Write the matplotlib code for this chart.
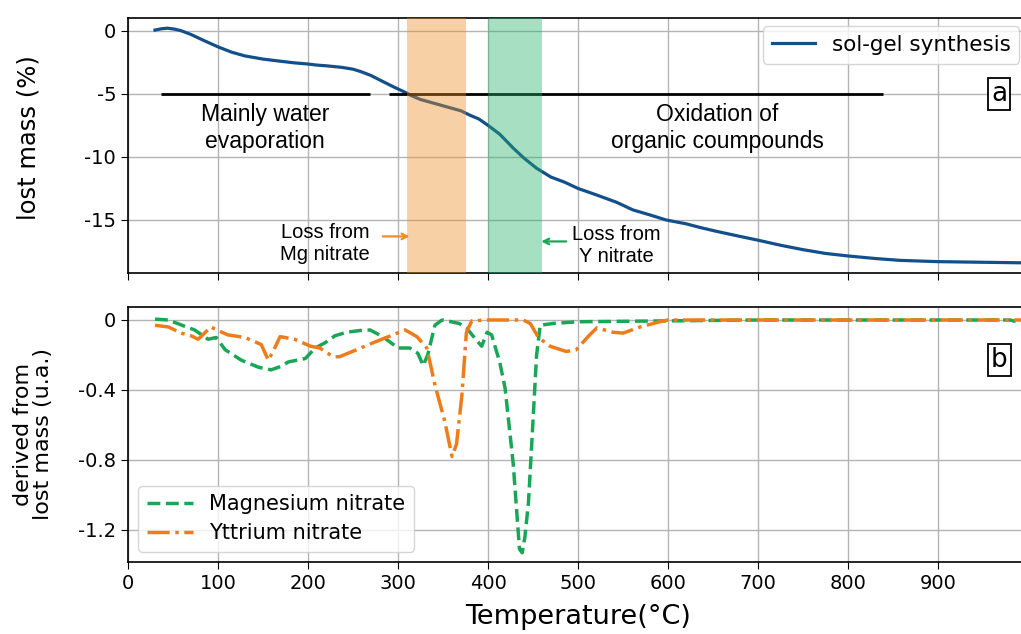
import matplotlib
matplotlib.use("Agg")
import matplotlib.pyplot as plt

# ---- data ----
solgel_T = [30, 37, 44, 52, 59, 70, 85, 100, 115, 130, 150, 167, 185, 200, 209, 220, 237, 250,
            259, 270, 281, 295, 307, 315, 325, 340, 355, 370, 380, 390, 400, 413, 428, 440, 454,
            470, 485, 500, 520, 543, 561, 580, 598, 620, 636, 654, 680, 700, 725, 750, 775, 800,
            830, 858, 900, 950, 1000]
solgel_mass = [0.05, 0.15, 0.2, 0.12, 0.0, -0.3, -0.8, -1.28, -1.7, -2.0, -2.25, -2.4, -2.55,
               -2.64, -2.72, -2.78, -2.9, -3.05, -3.25, -3.55, -3.95, -4.45, -4.85, -5.15, -5.45,
               -5.75, -6.05, -6.35, -6.7, -7.0, -7.5, -8.2, -9.3, -10.1, -10.9, -11.6, -12.0,
               -12.5, -13.0, -13.6, -14.2, -14.6, -15.0, -15.3, -15.6, -15.9, -16.3, -16.6,
               -17.0, -17.35, -17.65, -17.85, -18.05, -18.2, -18.3, -18.35, -18.4]

mg_T = [30, 45, 60, 74, 89, 98, 108, 126, 145, 159, 170, 178, 197, 208, 219, 230, 243, 258, 269,
        283, 300, 313, 322, 328, 333, 341, 349, 359, 368, 376, 388, 393, 399, 404, 413, 419, 428,
        435, 438, 441, 445, 449, 454, 458, 472, 500, 600, 700, 980, 995]
mg_deriv = [0.005, 0.0, -0.03, -0.057, -0.11, -0.10, -0.17, -0.23, -0.27, -0.285, -0.265, -0.24,
            -0.22, -0.16, -0.13, -0.09, -0.07, -0.06, -0.057, -0.095, -0.16, -0.16, -0.19, -0.26,
            -0.20, -0.03, 0.0, -0.01, -0.02, -0.045, -0.12, -0.15, -0.07, -0.085, -0.24, -0.39,
            -0.82, -1.31, -1.33, -1.24, -1.04, -0.67, -0.20, -0.03, -0.02, -0.01, -0.005, 0.0,
            0.0, -0.02]

y_T = [30, 45, 59, 70, 78, 83, 92, 100, 111, 130, 148, 156, 163, 169, 185, 203, 213, 228, 235,
       254, 270, 287, 308, 321, 332, 341, 352, 360, 365, 371, 376, 382, 400, 439, 447, 456, 469,
       487, 498, 513, 521, 539, 550, 569, 591, 600, 1000]
y_deriv = [-0.03, -0.04, -0.075, -0.09, -0.11, -0.085, -0.04, -0.06, -0.085, -0.10, -0.14, -0.23,
           -0.16, -0.095, -0.11, -0.15, -0.16, -0.21, -0.21, -0.17, -0.135, -0.10, -0.057, -0.095,
           -0.16, -0.37, -0.58, -0.78, -0.71, -0.43, -0.07, -0.005, 0.0, 0.0, -0.02, -0.10, -0.15,
           -0.18, -0.17, -0.085, -0.045, -0.07, -0.075, -0.04, -0.01, 0.0, 0.0]

x_ticks = [0, 100, 200, 300, 400, 500, 600, 700, 800, 900]
x_ticklabels = ["0", "100", "200", "300", "400", "500", "600", "700", "800", "900"]
top_yticks = [0, -5, -10, -15]
top_yticklabels = ["0", "-5", "-10", "-15"]
bot_yticks = [0, -0.4, -0.8, -1.2]
bot_yticklabels = ["0", "-0.4", "-0.8", "-1.2"]

mg_band = (310, 376)
y_band = (400, 460)
water_line = (37, 269)
oxid_line = (290, 839)
line_level = -5

# ---- figure ----
W, H = 1021, 634
fig = plt.figure(figsize=(W / 100, H / 100), dpi=100)
left = 128 / W
width = 900 / W
ax1 = fig.add_axes([left, (H - 273) / H, width, (273 - 17.7) / H])
ax2 = fig.add_axes([left, (H - 562) / H, width, (562 - 306.7) / H])

blue = "#134f8a"
green = "#1aa657"
orange = "#ef7c1a"
txtfont = ["Liberation Sans", "DejaVu Sans"]

for ax in (ax1, ax2):
    ax.set_xlim(0, 1000)
    ax.set_xticks(x_ticks)
    ax.grid(True, color="#b4b4b4", lw=1.0)
    ax.set_axisbelow(True)
    ax.tick_params(labelsize=14, length=5)
    for s in ax.spines.values():
        s.set_linewidth(1.2)

ax1.set_xticklabels([])
ax2.set_xticklabels(x_ticklabels)

# Top panel
ax1.plot(solgel_T, solgel_mass, color=blue, lw=2.3, label="sol-gel synthesis", zorder=3)
ax1.hlines(line_level, *water_line, color="black", lw=2, zorder=4)
ax1.hlines(line_level, *oxid_line, color="black", lw=2, zorder=4)
ax1.axvspan(*mg_band, color="#ed8e20", alpha=0.4, lw=0, zorder=5)
ax1.axvspan(*y_band, color="#25af6b", alpha=0.4, lw=0, zorder=5)
ax1.set_ylim(-19.2, 1.03)
ax1.set_yticks(top_yticks)
ax1.set_yticklabels(top_yticklabels)
ax1.set_ylabel("lost mass (%)", fontsize=17.5)
ax1.yaxis.set_label_coords(-0.097, 0.53)

ax1.text(152, -7.7, "Mainly water\nevaporation", ha="center", va="center",
         fontsize=16.5, family=txtfont, linespacing=1.25, zorder=6)
ax1.text(655, -7.7, "Oxidation of\norganic coumpounds", ha="center", va="center",
         fontsize=16.5, family=txtfont, linespacing=1.25, zorder=6)
ax1.text(219, -16.85, "Loss from\nMg nitrate", ha="center", va="center",
         fontsize=14.5, family=txtfont, linespacing=1.2, zorder=6)
ax1.text(543, -17.0, "Loss from\nY nitrate", ha="center", va="center",
         fontsize=14.5, family=txtfont, linespacing=1.2, zorder=6)
ax1.annotate("", xy=(316, -16.3), xytext=(280, -16.3),
             arrowprops=dict(arrowstyle="->", color="#ef8c2a", lw=1.6), zorder=6)
ax1.annotate("", xy=(456, -16.7), xytext=(490, -16.7),
             arrowprops=dict(arrowstyle="->", color=green, lw=1.6), zorder=6)
ax1.text(968, -5.0, "a", ha="center", va="center", fontsize=19, zorder=7,
         bbox=dict(boxstyle="square,pad=0.12", fc="white", ec="black", lw=1.3))
leg1 = ax1.legend(loc="upper right", fontsize=15.5, handlelength=2.0, borderaxespad=0.4)
leg1.set_zorder(8)

# Bottom panel
ax2.plot(mg_T, mg_deriv, color=green, lw=2.5, ls="--", label="Magnesium nitrate", zorder=3)
ax2.plot(y_T, y_deriv, color=orange, lw=2.5, ls="-.", label="Yttrium nitrate", zorder=3)
ax2.set_ylim(-1.383, 0.076)
ax2.set_yticks(bot_yticks)
ax2.set_yticklabels(bot_yticklabels)
ax2.set_ylabel("derived from\nlost mass (u.a.)", fontsize=16, linespacing=1.0)
ax2.yaxis.set_label_coords(-0.083, 0.5)
ax2.set_xlabel("Temperature(°C)", fontsize=19.5, labelpad=8)
ax2.text(968, -0.23, "b", ha="center", va="center", fontsize=19, zorder=7,
         bbox=dict(boxstyle="square,pad=0.12", fc="white", ec="black", lw=1.3))
ax2.legend(loc="lower left", fontsize=15, handlelength=2.2, borderaxespad=0.5,
           borderpad=0.4, labelspacing=0.45)

fig.savefig("out.png", dpi=100)
